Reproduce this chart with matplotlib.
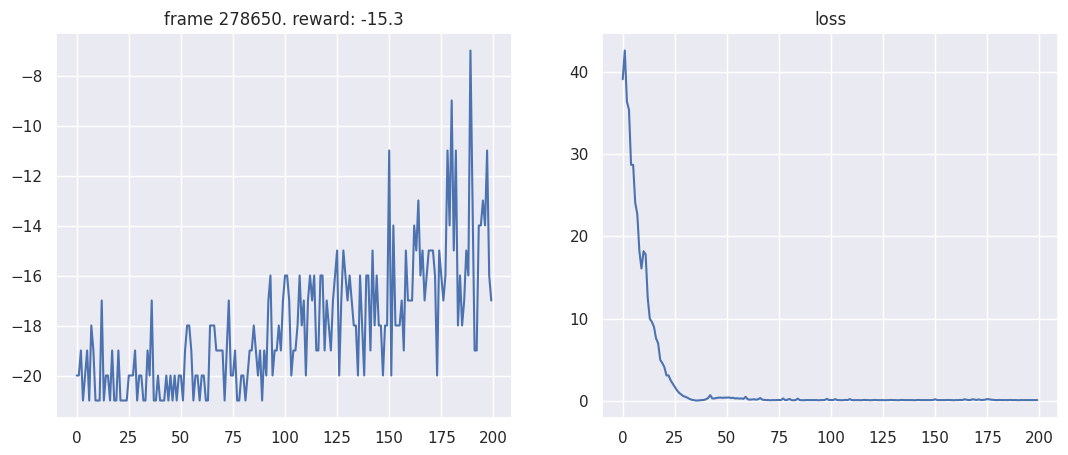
import matplotlib
matplotlib.use('Agg')
import matplotlib.pyplot as plt
import seaborn as sns

sns.set()

frame_idx = 278650

# rewards per episode
rewards = [
    -20, -20, -19, -21, -20, -19, -21, -18, -19, -21,
    -21, -21, -17, -21, -20, -20, -21, -19, -21, -21,
    -19, -21, -21, -21, -21, -20, -20, -20, -19, -21,
    -20, -20, -21, -21, -19, -20, -17, -21, -21, -20,
    -21, -21, -21, -20, -21, -20, -21, -20, -21, -20,
    -20, -21, -19, -18, -18, -19, -21, -20, -20, -21,
    -20, -20, -21, -21, -18, -18, -18, -19, -19, -19,
    -19, -21, -19, -17, -20, -20, -19, -21, -21, -20,
    -20, -21, -20, -19, -19, -18, -19, -20, -19, -21,
    -19, -20, -17, -16, -20, -19, -19, -18, -19, -17,
    -16, -16, -17, -20, -19, -19, -18, -16, -18, -17,
    -20, -17, -16, -17, -16, -19, -19, -16, -16, -19,
    -17, -18, -19, -17, -16, -15, -20, -17, -15, -16,
    -17, -16, -17, -18, -18, -20, -16, -18, -20, -16,
    -16, -19, -15, -18, -16, -18, -18, -20, -18, -18,
    -11, -20, -14, -18, -18, -18, -17, -19, -15, -17,
    -17, -17, -14, -15, -13, -16, -15, -17, -16, -15,
    -15, -15, -16, -20, -15, -16, -17, -16, -11, -14,
    -9, -15, -11, -18, -16, -18, -17, -15, -16, -7,
    -13, -19, -19, -14, -14, -13, -14, -11, -16, -17,
]

losses = [
    39.1, 42.6, 36.4, 35.4, 28.7, 28.7, 24.1, 22.7, 18.2, 16.1,
    18.2, 17.8, 12.5, 10.0, 9.6, 9.0, 7.6, 7.0, 5.0, 4.6,
    4.1, 3.1, 3.1, 2.5, 2.1, 1.7, 1.3, 1.0, 0.8, 0.6,
    0.5, 0.4, 0.25, 0.15, 0.1, 0.05, 0.05, 0.08, 0.1, 0.12,
    0.2, 0.35, 0.7, 0.3, 0.3, 0.35, 0.4, 0.4, 0.38, 0.4,
    0.4, 0.42, 0.35, 0.38, 0.3, 0.32, 0.28, 0.3, 0.25, 0.5,
    0.2, 0.15, 0.18, 0.2, 0.15, 0.2, 0.35, 0.15, 0.12, 0.1,
    0.1, 0.08, 0.1, 0.09, 0.1, 0.12, 0.1, 0.3, 0.1, 0.12,
    0.25, 0.1, 0.08, 0.1, 0.28, 0.1, 0.09, 0.08, 0.1, 0.1,
    0.1, 0.09, 0.1, 0.1, 0.08, 0.1, 0.1, 0.12, 0.25, 0.1,
    0.12, 0.1, 0.22, 0.1, 0.1, 0.08, 0.1, 0.12, 0.1, 0.22,
    0.1, 0.09, 0.1, 0.1, 0.08, 0.1, 0.12, 0.1, 0.1, 0.08,
    0.1, 0.12, 0.1, 0.09, 0.1, 0.1, 0.08, 0.1, 0.1, 0.12,
    0.1, 0.1, 0.08, 0.1, 0.12, 0.1, 0.1, 0.09, 0.1, 0.1,
    0.08, 0.1, 0.12, 0.1, 0.1, 0.09, 0.1, 0.1, 0.1, 0.12,
    0.2, 0.1, 0.1, 0.09, 0.1, 0.1, 0.12, 0.1, 0.1, 0.08,
    0.1, 0.1, 0.12, 0.1, 0.2, 0.15, 0.1, 0.12, 0.2, 0.15,
    0.12, 0.18, 0.1, 0.12, 0.15, 0.22, 0.18, 0.15, 0.12, 0.1,
    0.1, 0.12, 0.1, 0.1, 0.09, 0.1, 0.12, 0.1, 0.1, 0.1,
    0.08, 0.1, 0.1, 0.09, 0.1, 0.1, 0.1, 0.1, 0.1, 0.1,
]

mean_reward = -15.3

fig = plt.figure(figsize=(10.68, 4.55), dpi=100)
ax1 = fig.add_axes([56 / 1068, 37 / 455, 456 / 1068, 385 / 455])
ax2 = fig.add_axes([602 / 1068, 37 / 455, 456 / 1068, 385 / 455])

ax1.set_title('frame %s. reward: %s' % (frame_idx, mean_reward))
ax1.plot(rewards)

ax2.set_title('loss')
ax2.plot(losses)

fig.savefig('out.png', dpi=100)
